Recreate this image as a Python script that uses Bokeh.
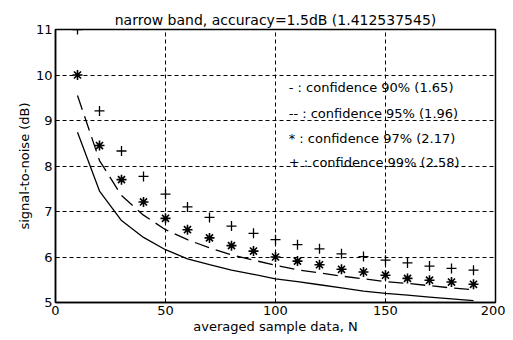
from bokeh.plotting import figure
from bokeh.models import Label, FixedTicker, Range1d
from bokeh.embed import file_html
from bokeh.resources import INLINE

# ---- data ----
N = [10, 20, 30, 40, 50, 60, 70, 80, 90, 100, 110, 120, 130, 140, 150, 160, 170, 180, 190]
conf90 = [8.74, 7.45, 6.80, 6.43, 6.16, 5.96, 5.83, 5.71, 5.62, 5.52, 5.46, 5.39, 5.32, 5.25, 5.20, 5.16, 5.12, 5.08, 5.04]
conf95 = [9.55, 8.12, 7.35, 6.92, 6.60, 6.38, 6.20, 6.05, 5.93, 5.82, 5.72, 5.65, 5.58, 5.52, 5.46, 5.42, 5.37, 5.32, 5.28]
conf97 = [10.0, 8.45, 7.70, 7.21, 6.85, 6.60, 6.42, 6.25, 6.13, 6.00, 5.91, 5.83, 5.73, 5.67, 5.60, 5.53, 5.49, 5.45, 5.40]
conf99 = [11.0, 9.21, 8.33, 7.77, 7.38, 7.10, 6.87, 6.68, 6.52, 6.38, 6.27, 6.18, 6.07, 6.01, 5.93, 5.87, 5.80, 5.75, 5.71]
x_ticks = [0, 50, 100, 150, 200]
y_ticks = [5, 6, 7, 8, 9, 10, 11]
legend_texts = ["-  : confidence 90% (1.65)",
                "-- : confidence 95% (1.96)",
                "*  : confidence 97% (2.17)",
                "+  : confidence 99% (2.58)"]
legend_y = [9.72, 9.16, 8.61, 8.08]
title_text = "narrow band, accuracy=1.5dB (1.412537545)"

FONT = "DejaVu Sans"

p = figure(width=505, height=336, output_backend="svg", toolbar_location=None,
           x_range=Range1d(0, 200), y_range=Range1d(5, 11),
           min_border_left=55, min_border_right=10, min_border_top=29, min_border_bottom=33,
           title=title_text)

p.title.align = "center"
p.title.text_font = FONT
p.title.text_font_size = "14px"
p.title.text_font_style = "normal"
p.title.text_color = "black"
p.title.standoff = 4

p.background_fill_color = "white"
p.outline_line_color = "black"
p.outline_line_width = 1.5
p.outline_line_alpha = 1

for ax in (p.xaxis[0], p.yaxis[0]):
    ax.axis_line_color = "black"
    ax.axis_line_width = 1.5
    ax.major_tick_in = 4
    ax.major_tick_out = 0
    ax.minor_tick_in = 0
    ax.minor_tick_out = 0
    ax.major_label_text_font = FONT
    ax.major_label_text_font_size = "13px"
    ax.major_label_text_color = "black"
    ax.axis_label_text_font = FONT
    ax.axis_label_text_font_size = "13px"
    ax.axis_label_text_font_style = "normal"
    ax.axis_label_text_color = "black"
    ax.major_label_standoff = 3
    ax.axis_label_standoff = 1

p.xaxis.ticker = FixedTicker(ticks=x_ticks)
p.yaxis.ticker = FixedTicker(ticks=y_ticks)
p.xaxis.axis_label = "averaged sample data, N"
p.yaxis.axis_label = "signal-to-noise (dB)"

for g in (p.xgrid[0], p.ygrid[0]):
    g.grid_line_color = "black"
    g.grid_line_dash = "4 3"
    g.grid_line_width = 1

p.line(N, conf90, line_color="black", line_width=1.3)
p.line(N, conf95, line_color="black", line_width=1.3, line_dash="15 7")
p.scatter(N, conf97, marker="asterisk", size=10, line_color="black", line_width=1.6)
p.scatter(N, conf99, marker="cross", size=10, line_color="black", line_width=1.3)

for t, yv in zip(legend_texts, legend_y):
    p.add_layout(Label(x=106, y=yv, text=t, text_font=FONT, text_font_size="13px",
                       text_color="black", text_baseline="middle"))

open("out.html", "w").write(file_html(p, INLINE))
